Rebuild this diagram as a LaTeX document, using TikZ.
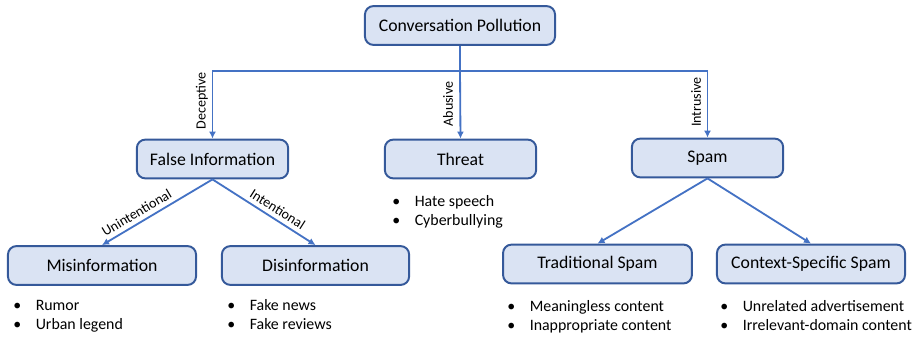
\documentclass[tikz,border=0pt]{standalone}
\usepackage{fontspec}
\setmainfont{Carlito}
\usetikzlibrary{arrows.meta}
\definecolor{boxfill}{HTML}{DAE3F3}
\definecolor{boxline}{HTML}{35599A}
\definecolor{linkblue}{HTML}{4472C4}
\tikzset{
	box/.style={draw=boxline, fill=boxfill, line width=1.4pt, rounded corners=6pt,
		minimum height=0.97cm, font=\fontsize{12.6}{15}\selectfont},
	link/.style={draw=linkblue, line width=1.3pt},
	arr/.style={link, -{Latex[length=5pt,width=5pt]}},
	tag/.style={font=\fontsize{10}{12}\selectfont, inner sep=1pt},
	items/.style={font=\fontsize{11.3}{14.2}\selectfont, anchor=base west, inner sep=0pt}
}
\newcommand{\itm}[1]{\makebox[16pt][l]{\textbullet}#1}

\begin{document}
\begin{tikzpicture}[x=0.025cm, y=-0.025cm]
	\useasboundingbox (0,0) rectangle (921,336);
	% boxes
	\node[box, minimum width=4.75cm] (root) at (460,25.5) {Conversation Pollution};
	\node[box, minimum width=3.78cm] (fi) at (212.5,159) {False Information};
	\node[box, minimum width=3.78cm] (threat) at (460.5,159) {Threat};
	\node[box, minimum width=3.78cm] (spam) at (707.5,158) {Spam};
	\node[box, minimum width=4.7cm] (mis) at (102,265.5) {Misinformation};
	\node[box, minimum width=4.68cm] (dis) at (315.5,265.5) {Disinformation};
	\node[box, minimum width=4.72cm] (trad) at (597.5,264) {Traditional Spam};
	\node[box, minimum width=4.7cm] (ctx) at (811,264) {Context-Specific Spam};
	% links
	\coordinate (hub) at (460,71);
	\draw[link] (root) -- (hub);
	\draw[arr] (hub) -| (fi.north);
	\draw[arr] (hub) -- (threat.north);
	\draw[arr] (hub) -| (spam.north);
	\node[tag, rotate=90] (dec) at (202,101) {Deceptive};
	\node[tag, rotate=90] (abu) at (448,104) {Abusive};
	\node[tag, rotate=90] (intr) at (696,102) {Intrusive};
	\draw[arr] (fi.south) -- node[tag, sloped, above=2pt, pos=0.64] (unint) {Unintentional} (mis.north);
	\draw[arr] (fi.south) -- node[tag, sloped, above=2pt, pos=0.58] (inten) {Intentional} (dis.north);
	\draw[arr] (spam.south) -- (trad.north);
	\draw[arr] (spam.south) -- (ctx.north);
	% bullet lists
	\node[items] (threatl) at (392,206) {\begin{tabular}[t]{@{}l@{}}\itm{Hate speech}\\ \itm{Cyberbullying}\end{tabular}};
	\node[items] (misl) at (13,310) {\begin{tabular}[t]{@{}l@{}}\itm{Rumor}\\ \itm{Urban legend}\end{tabular}};
	\node[items] (disl) at (227,310) {\begin{tabular}[t]{@{}l@{}}\itm{Fake news}\\ \itm{Fake reviews}\end{tabular}};
	\node[items] (tradl) at (507,311) {\begin{tabular}[t]{@{}l@{}}\itm{Meaningless content}\\ \itm{Inappropriate content}\end{tabular}};
	\node[items] (ctxl) at (720,311) {\begin{tabular}[t]{@{}l@{}}\itm{Unrelated advertisement}\\ \itm{Irrelevant-domain content}\end{tabular}};
\end{tikzpicture}
\end{document}
